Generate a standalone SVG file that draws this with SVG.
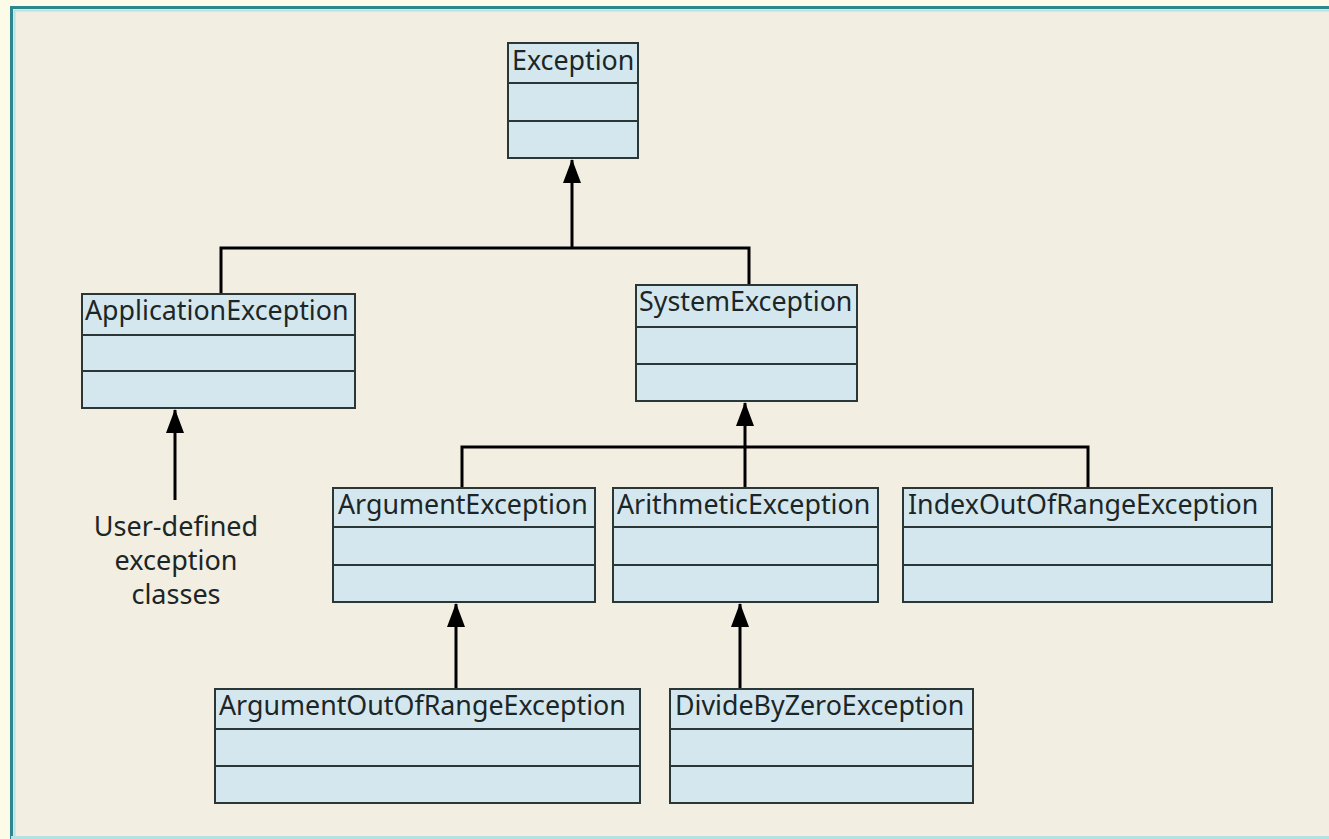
<svg xmlns="http://www.w3.org/2000/svg" width="1329" height="839" viewBox="0 0 1329 839">
<defs>
<style>
.box{fill:#d5e7ee;stroke:#2b3737;stroke-width:2}
.div{stroke:#2b3737;stroke-width:2}
.lbl{font-family:"Noto Sans","Open Sans",sans-serif;font-size:26.8px;fill:#1c2626}
.note{font-family:"Noto Sans","Open Sans",sans-serif;font-size:27px;fill:#1c2626;text-anchor:middle}
.con{fill:none;stroke:#000;stroke-width:3}
</style>
<marker id="arr" viewBox="0 0 24 18" refX="23" refY="9" markerWidth="24" markerHeight="18" markerUnits="userSpaceOnUse" orient="auto">
<path d="M24,9 L0,0 L0,18 Z" fill="#000"/>
</marker>
</defs>
<rect x="0" y="0" width="1329" height="839" fill="#fbfbe7"/>
<rect x="11" y="7" width="1330" height="832" fill="#f2eee1"/>
<path d="M11.5,839 V7.5 H1329" fill="none" stroke="#2e878c" stroke-width="3"/>
<path d="M14.5,839 V10.5 H1329" fill="none" stroke="#b6e2e2" stroke-width="2"/>
<line x1="11" y1="837.5" x2="1329" y2="837.5" stroke="#b6e2e2" stroke-width="3"/>

<g id="connectors">
<path class="con" d="M221,294 V248 H749 V285"/>
<path class="con" d="M572,248 V160" marker-end="url(#arr)"/>
<path class="con" d="M462,488 V447 H1088 V488"/>
<path class="con" d="M745,488 V403" marker-end="url(#arr)"/>
<path class="con" d="M456,689 V604" marker-end="url(#arr)"/>
<path class="con" d="M740,689 V604" marker-end="url(#arr)"/>
<path class="con" d="M175,500 V410" marker-end="url(#arr)"/>
</g>

<g id="exception">
<rect class="box" x="508" y="43" width="130" height="115"/>
<line class="div" x1="508" y1="83" x2="638" y2="83"/>
<line class="div" x1="508" y1="121" x2="638" y2="121"/>
<text class="lbl" x="512" y="70">Exception</text>
</g>

<g id="applicationexception">
<rect class="box" x="82" y="294" width="273" height="114"/>
<line class="div" x1="82" y1="335" x2="355" y2="335"/>
<line class="div" x1="82" y1="371" x2="355" y2="371"/>
<text class="lbl" x="85" y="320">ApplicationException</text>
</g>

<g id="systemexception">
<rect class="box" x="636" y="285" width="221" height="116"/>
<line class="div" x1="636" y1="327" x2="857" y2="327"/>
<line class="div" x1="636" y1="364" x2="857" y2="364"/>
<text class="lbl" x="639" y="311">SystemException</text>
</g>

<g id="argumentexception">
<rect class="box" x="333" y="488" width="262" height="114"/>
<line class="div" x1="333" y1="527" x2="595" y2="527"/>
<line class="div" x1="333" y1="565" x2="595" y2="565"/>
<text class="lbl" x="338" y="514">ArgumentException</text>
</g>

<g id="arithmeticexception">
<rect class="box" x="613" y="488" width="265" height="114"/>
<line class="div" x1="613" y1="527" x2="878" y2="527"/>
<line class="div" x1="613" y1="565" x2="878" y2="565"/>
<text class="lbl" x="617" y="514">ArithmeticException</text>
</g>

<g id="indexoutofrangeexception">
<rect class="box" x="903" y="488" width="369" height="114"/>
<line class="div" x1="903" y1="527" x2="1272" y2="527"/>
<line class="div" x1="903" y1="565" x2="1272" y2="565"/>
<text class="lbl" x="908" y="514">IndexOutOfRangeException</text>
</g>

<g id="argumentoutofrangeexception">
<rect class="box" x="215" y="689" width="425" height="114"/>
<line class="div" x1="215" y1="729" x2="640" y2="729"/>
<line class="div" x1="215" y1="766" x2="640" y2="766"/>
<text class="lbl" x="219" y="715">ArgumentOutOfRangeException</text>
</g>

<g id="dividebyzeroexception">
<rect class="box" x="670" y="689" width="303" height="114"/>
<line class="div" x1="670" y1="729" x2="973" y2="729"/>
<line class="div" x1="670" y1="766" x2="973" y2="766"/>
<text class="lbl" x="675" y="715">DivideByZeroException</text>
</g>

<g id="userdefined">
<text class="note" x="176" y="536">User-defined</text>
<text class="note" x="176" y="570">exception</text>
<text class="note" x="176" y="604">classes</text>
</g>
</svg>
